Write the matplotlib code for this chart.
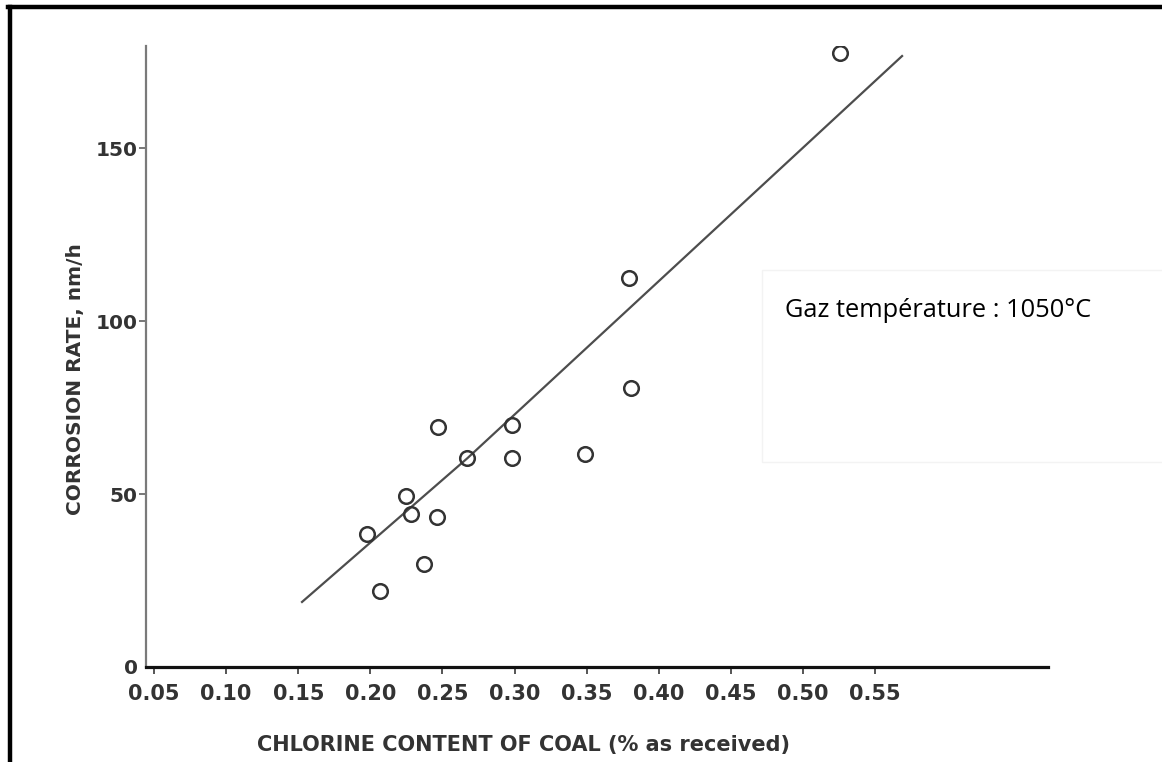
import matplotlib
matplotlib.use("Agg")
import matplotlib.pyplot as plt
from matplotlib.lines import Line2D
from matplotlib.patches import Rectangle

# measured points (chlorine %, corrosion rate nm/h)
chlorine = [0.198, 0.207, 0.225, 0.228, 0.237, 0.246, 0.247, 0.267,
            0.298, 0.298, 0.349, 0.379, 0.381, 0.526]
corrosion = [38.4, 22.0, 49.4, 44.2, 29.8, 43.4, 69.4, 60.4,
             69.9, 60.4, 61.6, 112.4, 80.6, 177.5]

# fitted trend line drawn in the original
fit_x = [0.1526, 0.2674, 0.5687]
fit_y = [18.8, 60.4, 176.6]

xticks = [0.05, 0.10, 0.15, 0.20, 0.25, 0.30, 0.35, 0.40, 0.45, 0.50, 0.55]
xticklabels = ["0.05", "0.10", "0.15", "0.20", "0.25", "0.30",
               "0.35", "0.40", "0.45", "0.50", "0.55"]
yticks = [0, 50, 100, 150]
yticklabels = ["0", "50", "100", "150"]

W, H = 1162, 762
ink = "#333333"

fig = plt.figure(figsize=(W / 100, H / 100), dpi=100)
fig.patch.set_facecolor("white")
ax = fig.add_axes([146 / W, 1 - 667 / H, (1048 - 146) / W, (667 - 46) / H])

ax.plot(fit_x, fit_y, color="#4d4d4d", lw=1.6, zorder=2)
ax.plot(chlorine, corrosion, linestyle="none", marker="o", ms=10.5,
        mfc="none", mec=ink, mew=1.8, zorder=3)

ax.set_xlim(0.0444, 0.6699)
ax.set_ylim(0, 179.5)

for side in ["top", "right"]:
    ax.spines[side].set_visible(False)
ax.spines["left"].set_color("#7a7a7a")
ax.spines["left"].set_linewidth(1.6)
ax.spines["bottom"].set_color("#111111")
ax.spines["bottom"].set_linewidth(2.3)

ax.set_xticks(xticks)
ax.set_xticklabels(xticklabels)
ax.set_yticks(yticks)
ax.set_yticklabels(yticklabels)
ax.tick_params(axis="x", direction="out", length=5, width=1.4, color="#555555",
               pad=7, labelsize=15, labelcolor=ink)
ax.tick_params(axis="y", direction="out", length=5, width=1.4, color="#777777",
               pad=1, labelsize=14.5, labelcolor=ink)
ax.yaxis.get_major_ticks()[0].tick1line.set_visible(False)
for lab in ax.get_xticklabels() + ax.get_yticklabels():
    lab.set_fontweight("bold")
    lab.set_family("DejaVu Sans")

ax.set_xlabel("CHLORINE CONTENT OF COAL (% as received)", fontsize=15,
              fontweight="bold", color=ink, va="center")
ax.xaxis.set_label_coords(0.418, -0.1256)
ax.set_ylabel("CORROSION RATE, nm/h", fontsize=14.5, fontweight="bold",
              color=ink, va="center")
ax.yaxis.set_label_coords(-0.0777, 0.4638)

# annotation box pasted onto the scan
fig.patches.append(Rectangle((762 / W, 1 - 462 / H), 420 / W, 192 / H,
                             transform=fig.transFigure, facecolor="white",
                             edgecolor="#f3f3f3", lw=1, zorder=5))
fig.text(785 / W, 1 - 317 / H, "Gaz température : 1050°C",
         family=["Open Sans", "DejaVu Sans"], fontsize=18.3, color="black",
         va="baseline", ha="left", zorder=6)

# frame pieces left over from the crop
fig.lines.append(Line2D([9.5 / W, 9.5 / W], [0, 1 - 7 / H], transform=fig.transFigure,
                        color="black", lw=3.2))
fig.lines.append(Line2D([7.5 / W, 1], [1 - 7 / H, 1 - 7 / H], transform=fig.transFigure,
                        color="black", lw=3.2))

fig.savefig("out.png", dpi=100)
